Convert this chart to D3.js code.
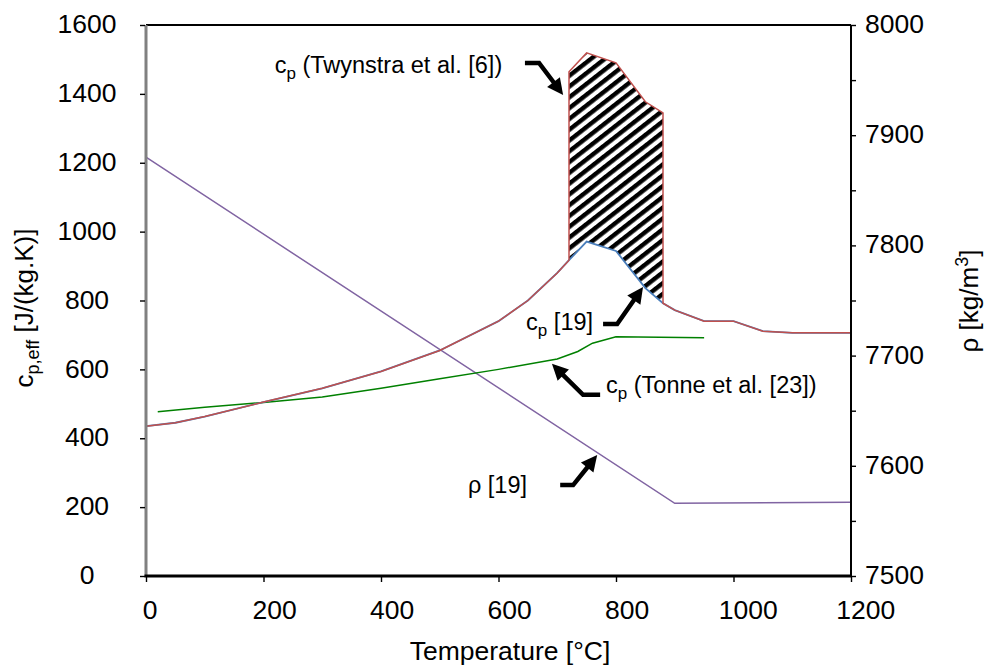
<!DOCTYPE html>
<html>
<head>
<meta charset="utf-8">
<script src="https://cdn.jsdelivr.net/npm/d3@7"></script>
<style>
  body { margin: 0; background: #fff; }
  text { font-family: "Liberation Sans", Arial, sans-serif; fill: #000; }
</style>
</head>
<body>
<div id="chart"></div>
<script>
// data
const tempCp19 = [0, 50, 100, 200, 300, 400, 500, 600, 650, 700, 720, 750, 800, 850, 880, 900, 950, 1000, 1050, 1100, 1200]
const cp19 = [435, 445, 463, 505, 545, 594, 655, 740, 800, 880, 917, 971, 944, 836, 792, 772, 740, 740, 711, 706, 706]

const tempTwynstra = [720, 750, 800, 850, 880]
const cpTwynstra = [1464, 1519, 1490, 1377, 1345]

const tempTonne = [20, 100, 200, 300, 400, 500, 600, 700, 735, 760, 800, 950]
const cpTonne = [477, 490, 504, 520, 545, 573, 600, 630, 652, 676, 695, 692]

const tempRho = [0, 900, 1200]
const rho19 = [7880, 7566, 7567]

const xTicks = [0, 200, 400, 600, 800, 1000, 1200]
const yLeftTicks = [0, 200, 400, 600, 800, 1000, 1200, 1400, 1600]
const yRightTicks = d3.range(7500, 8001, 50)

// annotations: text anchor and arrow points, in data units (T, cp)
const labelMain = ['c', 'c', 'c', 'ρ [19]']
const labelSub = ['p', 'p', 'p', '']
const labelRest = [' (Twynstra et al. [6])', ' [19]', ' (Tonne et al. [23])', '']
const labelT = [219, 647, 783, 548]
const labelCp = [1461, 714, 531, 241]
const arrowT = [[645, 669, 710], [778, 802, 846], [773, 744, 691], [705, 727, 768]]
const arrowCp = [[1490, 1490, 1397], [732, 732, 839], [526, 526, 616], [264, 264, 351]]

const W = 985, H = 669
const margin = { top: 25, right: 134, bottom: 93, left: 146 }

const svg = d3.select('#chart').append('svg')
    .attr('width', W)
    .attr('height', H)

const x = d3.scaleLinear().domain([0, 1200]).range([margin.left, W - margin.right])
const y = d3.scaleLinear().domain([0, 1600]).range([H - margin.bottom, margin.top])
const yR = d3.scaleLinear().domain([7500, 8000]).range([H - margin.bottom, margin.top])

const defs = svg.append('defs')
defs.append('pattern')
    .attr('id', 'hatch')
    .attr('patternUnits', 'userSpaceOnUse')
    .attr('width', 10).attr('height', 8.5)
    .attr('patternTransform', 'rotate(-38)')
  .append('rect')
    .attr('width', 10).attr('height', 4.4)
    .attr('fill', '#000')

// hatched band between Twynstra and cp [19]
const topPts = tempTwynstra.map((t, i) => [t, cpTwynstra[i]])
const botPts = tempCp19.map((t, i) => [t, cp19[i]])
    .filter(d => d[0] >= tempTwynstra[0] && d[0] <= tempTwynstra[tempTwynstra.length - 1])
    .reverse()
const band = topPts.concat(botPts)
svg.append('path')
    .attr('d', d3.line().x(d => x(d[0])).y(d => y(d[1]))(band) + 'Z')
    .attr('fill', 'url(#hatch)')

const line = d3.line().x(d => x(d[0])).y(d => y(d[1]))

// rho [19]
svg.append('path')
    .attr('d', d3.line().x(d => x(d[0])).y(d => yR(d[1]))(tempRho.map((t, i) => [t, rho19[i]])))
    .attr('fill', 'none').attr('stroke', '#8064a2').attr('stroke-width', 1.5)

// Tonne
svg.append('path')
    .attr('d', line(tempTonne.map((t, i) => [t, cpTonne[i]])))
    .attr('fill', 'none').attr('stroke', '#008000').attr('stroke-width', 1.5)

// cp [19]
svg.append('path')
    .attr('d', line(tempCp19.map((t, i) => [t, cp19[i]])))
    .attr('fill', 'none').attr('stroke', '#4a7ebb').attr('stroke-width', 1.8)

// Twynstra (follows cp [19] outside the peak)
const t0 = tempTwynstra[0], t1 = tempTwynstra[tempTwynstra.length - 1]
const redPts = []
tempCp19.forEach((t, i) => { if (t <= t0) redPts.push([t, cp19[i]]) })
topPts.forEach(d => redPts.push(d))
tempCp19.forEach((t, i) => { if (t >= t1) redPts.push([t, cp19[i]]) })
svg.append('path')
    .attr('d', line(redPts))
    .attr('fill', 'none').attr('stroke', '#c0504d').attr('stroke-width', 1.5)

// frame
const g = svg.append('g')
g.append('line').attr('x1', x(0)).attr('x2', x(1200)).attr('y1', y(1600)).attr('y2', y(1600))
    .attr('stroke', '#000').attr('stroke-width', 2)
g.append('line').attr('x1', x(1200)).attr('x2', x(1200)).attr('y1', y(1600)).attr('y2', y(0))
    .attr('stroke', '#000').attr('stroke-width', 2)
g.append('line').attr('x1', x(0)).attr('x2', x(0)).attr('y1', y(1600)).attr('y2', y(0))
    .attr('stroke', '#808080').attr('stroke-width', 3)
g.append('line').attr('x1', x(0) - 1.5).attr('x2', x(1200)).attr('y1', y(0)).attr('y2', y(0))
    .attr('stroke', '#000').attr('stroke-width', 3)

// axes
const styleAxis = sel => {
    sel.select('.domain').remove()
    sel.selectAll('.tick line').attr('stroke', '#000').attr('stroke-width', 1.4)
    sel.selectAll('.tick text').attr('font-size', 26.5).attr('font-family', '"Liberation Sans", Arial, sans-serif').attr('fill', '#000')
}

const xAxis = svg.append('g')
    .attr('transform', `translate(0,${y(0) + 1})`)
    .call(d3.axisBottom(x).tickValues(xTicks).tickSize(5).tickSizeOuter(0).tickFormat(d3.format('d')))
    .call(styleAxis)
xAxis.selectAll('.tick text')
    .attr('y', 23)
    .attr('dx', function () { return this.getComputedTextLength() * 0.24 })

svg.append('g')
    .attr('transform', `translate(${x(0) - 1},0)`)
    .call(d3.axisLeft(y).tickValues(yLeftTicks).tickSize(5).tickSizeOuter(0).tickFormat(d3.format('d')))
    .call(styleAxis)
    .selectAll('.tick text')
    .attr('text-anchor', 'middle')
    .attr('x', 87 - x(0) + 1)
    .attr('dy', '0.29em')

svg.append('g')
    .attr('transform', `translate(${x(1200)},0)`)
    .call(d3.axisRight(yR).tickValues(yRightTicks).tickSize(5).tickSizeOuter(0)
        .tickFormat(d => d % 100 === 0 ? d3.format('d')(d) : ''))
    .call(styleAxis)
    .selectAll('.tick text')
    .attr('x', 14)
    .attr('dy', '0.28em')

// axis titles
svg.append('text')
    .attr('x', 510).attr('y', 660)
    .attr('text-anchor', 'middle')
    .attr('font-size', 26.5)
    .text('Temperature [°C]')

const yTitle = svg.append('text')
    .attr('transform', 'translate(33,308) rotate(-90)')
    .attr('text-anchor', 'middle')
    .attr('font-size', 26)
yTitle.append('tspan').text('c')
yTitle.append('tspan').attr('font-size', 18).attr('dy', 6).text('p,eff')
yTitle.append('tspan').attr('dy', -6).text(' [J/(kg.K)]')

const yRTitle = svg.append('text')
    .attr('transform', 'translate(978,301) rotate(-90)')
    .attr('text-anchor', 'middle')
    .attr('font-size', 26)
yRTitle.append('tspan').text('ρ [kg/m')
yRTitle.append('tspan').attr('font-size', 18).attr('dy', -10).text('3')
yRTitle.append('tspan').attr('dy', 10).text(']')

// annotations
labelMain.forEach((m, i) => {
    const t = svg.append('text')
        .attr('x', x(labelT[i])).attr('y', y(labelCp[i]))
        .attr('font-size', 23.5)
    t.append('tspan').text(m)
    if (labelSub[i]) {
        t.append('tspan').attr('font-size', 17).attr('dy', 6).text(labelSub[i])
        t.append('tspan').attr('dy', -6).text(labelRest[i])
    }

    const pts = arrowT[i].map((tt, j) => [x(tt), y(arrowCp[i][j])])
    const tip = pts[pts.length - 1], prev = pts[pts.length - 2]
    const ang = Math.atan2(tip[1] - prev[1], tip[0] - prev[0])
    const headLen = 16, headW = 8
    const shaft = pts.slice(0, -1).concat([[tip[0] - Math.cos(ang) * (headLen - 3), tip[1] - Math.sin(ang) * (headLen - 3)]])
    svg.append('path')
        .attr('d', d3.line()(shaft))
        .attr('fill', 'none').attr('stroke', '#000')
        .attr('stroke-width', 4.5).attr('stroke-linejoin', 'miter')
    const bx = tip[0] - Math.cos(ang) * headLen, by = tip[1] - Math.sin(ang) * headLen
    const px = -Math.sin(ang) * headW, py = Math.cos(ang) * headW
    svg.append('path')
        .attr('d', d3.line()([tip, [bx + px, by + py], [bx - px, by - py]]) + 'Z')
        .attr('fill', '#000')
})
</script>
</body>
</html>
